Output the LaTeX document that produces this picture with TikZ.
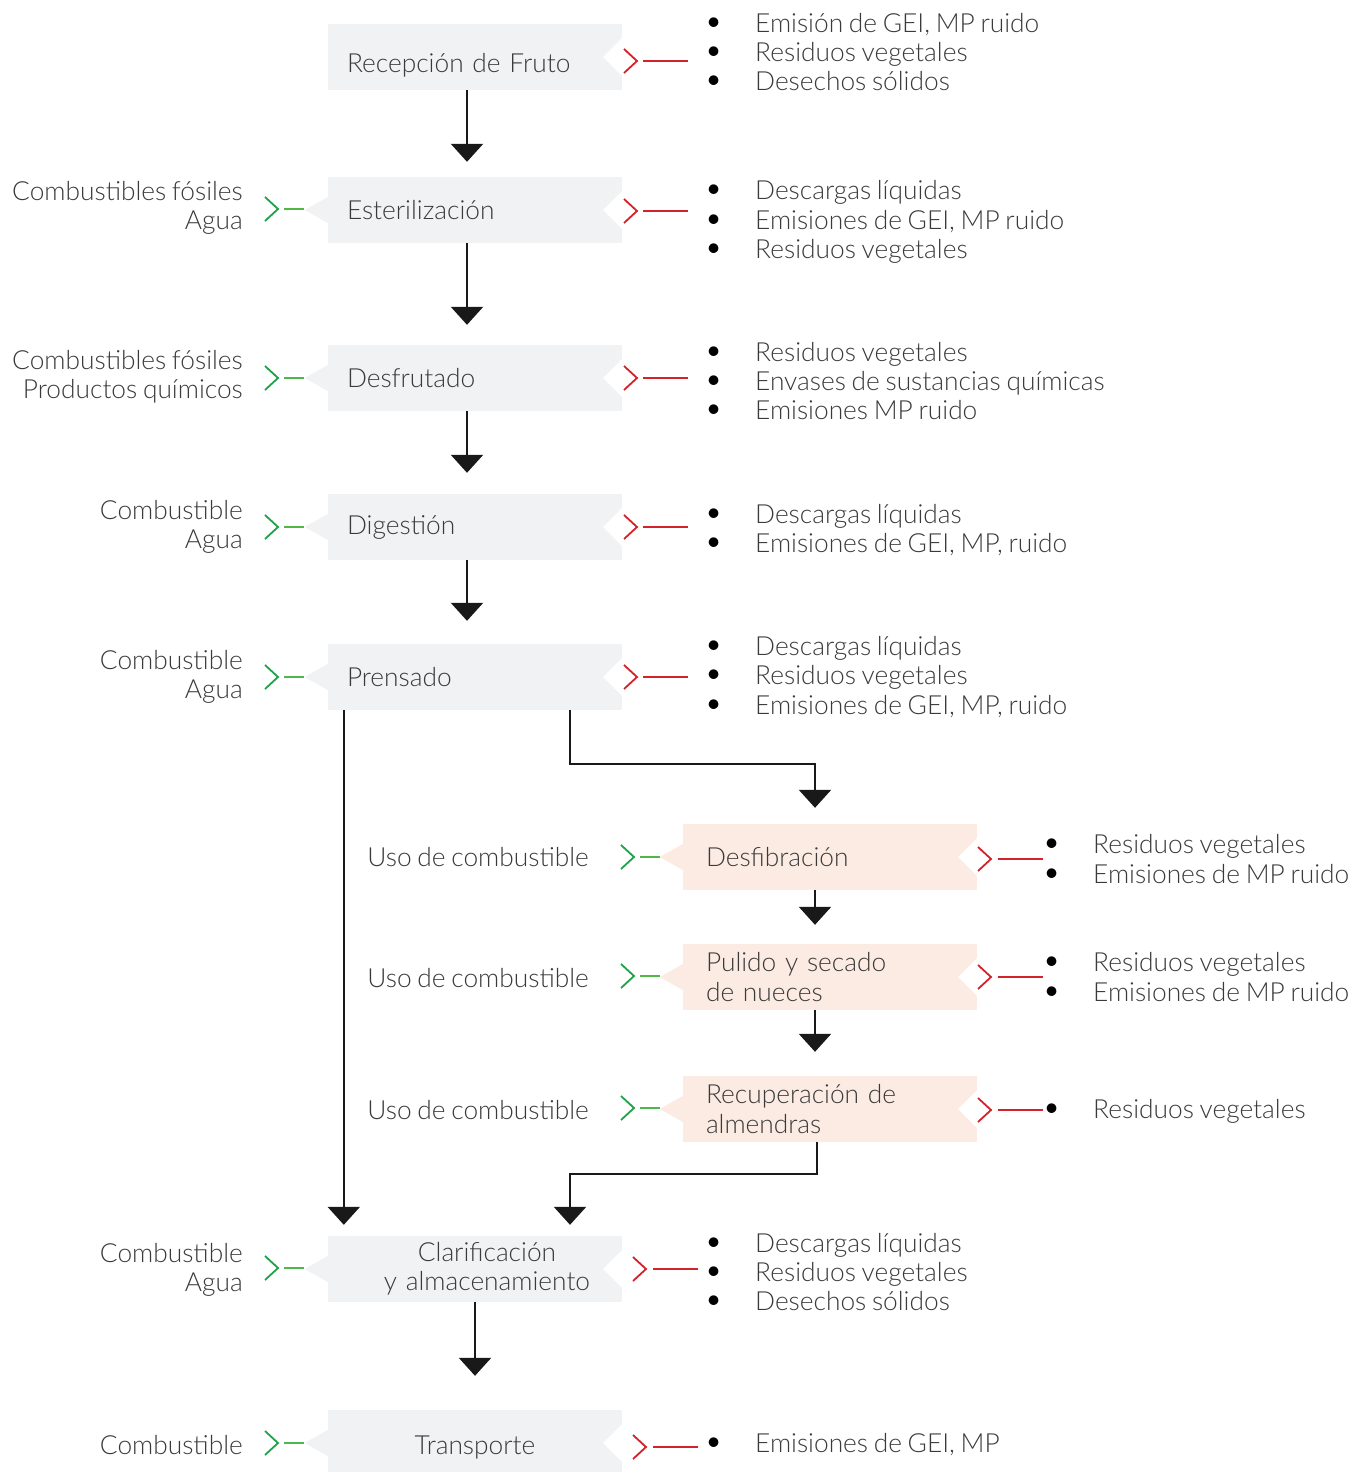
\documentclass[tikz,border=0pt]{standalone}
\usepackage{fontspec}
\setmainfont{Lato}[UprightFont={* Light}, WordSpace=0.8]
\usetikzlibrary{arrows.meta}
\definecolor{boxgrey}{HTML}{F1F2F3}
\definecolor{boxpeach}{HTML}{FCEBE3}
\definecolor{txt}{HTML}{3A3A3A}
\definecolor{gchev}{HTML}{1FA24A}
\definecolor{gline}{HTML}{4DB848}
\definecolor{rchev}{HTML}{D3222A}
\tikzset{
 base/.style={font=\fontsize{26.3}{29.3}\selectfont, text=txt},
 proc/.style={base, rectangle, fill=boxgrey, minimum width=294pt, minimum height=66pt, inner xsep=19pt, inner ysep=0pt, text width=256pt, align=left},
 procp/.style={proc, fill=boxpeach, inner xsep=23pt, text width=248pt},
 outlist/.style={base, anchor=west, align=left, inner sep=0pt},
 inlist/.style={base, anchor=east, align=right, inner sep=0pt},
 flow/.style={line width=2.5pt, black!90, -{Triangle[width=32pt,length=18pt]}},
 chev/.style={line width=1.8pt},
}
\newcommand\rmk[4]{%
 \draw[chev, rchev] (#1,#2-12) -- (#1+13,#2) -- (#1,#2+12);
 \draw[rchev, line width=2.6pt] (#3,#2) -- (#4,#2);}
\newcommand\gmk[2]{%
 \draw[chev, gchev] (#1,#2-12) -- (#1+13,#2) -- (#1,#2+12);
 \draw[gline, line width=2.6pt] (#1+19,#2) -- (#1+39,#2);}
\newcommand\notch[1]{%
 \fill[white] ([xshift=1pt,yshift=20pt]#1.east) -- ++(-20pt,-20pt) -- ++(20pt,-20pt) -- cycle;}
\newcommand\tab[2]{%
 \fill[#2] ([yshift=13pt]#1.west) -- ++(-23pt,-13pt) -- ++(23pt,-13pt) -- cycle;}
\newcommand\bl{\makebox[50pt][l]{\hspace*{-1pt}\smash{\textcolor{black}{\scalebox{1.25}{\textbullet}}}}}
\begin{document}
\begin{tikzpicture}[x=1pt,y=-1pt]
\useasboundingbox[fill=white] (0,0) rectangle (1367,1472);

% process boxes
\node[proc, text height=30pt, text depth=0pt] (recep) at (475,57) {Recepción de Fruto};
\node[proc] (ester) at (475,210) {Esterilización};
\node[proc] (desfr) at (475,378) {Desfrutado};
\node[proc] (dig) at (475,527) {Digestión};
\node[proc] (prens) at (475,677) {Prensado};
\node[procp] (desfib) at (830,857) {Desfibración};
\node[procp] (pulido) at (830,977) {Pulido y secado\\de nueces};
\node[procp] (recup) at (830,1109) {Recuperación de\\almendras};
\node[proc, align=center] (clar) at (475,1269) {\hspace*{24pt}Clarificación\\\hspace*{24pt}y almacenamiento};
\node[proc, align=center, text height=22pt, text depth=0pt] (transp) at (475,1443) {Transporte};

\foreach \n in {recep,ester,desfr,dig,prens,desfib,pulido,recup,clar,transp} {\notch{\n}}
\foreach \n in {ester,desfr,dig,prens,clar,transp} {\tab{\n}{boxgrey}}
\foreach \n in {desfib,pulido,recup} {\tab{\n}{boxpeach}}

% inputs
\node[inlist] (in2) at (243,208) {Combustibles fósiles\\Agua};
\node[inlist] (in3) at (243,377) {Combustibles fósiles\\Productos químicos};
\node[inlist] (in4) at (243,527) {Combustible\\Agua};
\node[inlist] (in5) at (243,677) {Combustible\\Agua};
\node[inlist] (in6) at (589,857) {Uso de combustible};
\node[inlist] (in7) at (589,978) {Uso de combustible};
\node[inlist] (in8) at (589,1110) {Uso de combustible};
\node[inlist] (in9) at (243,1270) {Combustible\\Agua};
\node[inlist] (in10) at (243,1445) {Combustible};

\gmk{265}{209}
\gmk{265}{378}
\gmk{265}{527}
\gmk{265}{677}
\gmk{621}{857}
\gmk{621}{976}
\gmk{621}{1108}
\gmk{265}{1268}
\gmk{265}{1443}

% outputs
\node[outlist] (out1) at (705,52) {\bl Emisión de GEI, MP ruido\\\bl Residuos vegetales\\\bl Desechos sólidos};
\node[outlist] (out2) at (705,222) {\bl Descargas líquidas\\\bl Emisiones de GEI, MP ruido\\\bl Residuos vegetales};
\node[outlist] (out3) at (705,381) {\bl Residuos vegetales\\\bl Envases de sustancias químicas\\\bl Emisiones MP ruido};
\node[outlist] (out4) at (705,530) {\bl Descargas líquidas\\\bl Emisiones de GEI, MP, ruido};
\node[outlist] (out5) at (705,677) {\bl Descargas líquidas\\\bl Residuos vegetales\\\bl Emisiones de GEI, MP, ruido};
\node[outlist] (out6) at (1043,859) {\bl Residuos vegetales\\\bl Emisiones de MP ruido};
\node[outlist] (out7) at (1043,977) {\bl Residuos vegetales\\\bl Emisiones de MP ruido};
\node[outlist] (out8) at (1043,1111) {\bl Residuos vegetales};
\node[outlist] (out9) at (705,1272) {\bl Descargas líquidas\\\bl Residuos vegetales\\\bl Desechos sólidos};
\node[outlist] (out10) at (705,1445) {\bl Emisiones de GEI, MP};

\rmk{624}{61}{643}{688}
\rmk{624}{211}{643}{688}
\rmk{624}{378}{643}{688}
\rmk{624}{527}{643}{688}
\rmk{624}{677}{643}{688}
\rmk{978}{859}{998}{1043}
\rmk{978}{977}{998}{1043}
\rmk{978}{1110}{998}{1043}
\rmk{633}{1269}{653}{698}
\rmk{633}{1447}{653}{698}

% flow arrows
\draw[flow] ([xshift=-8pt]recep.south) -- ([xshift=-8pt,yshift=15pt]ester.north);
\draw[flow] ([xshift=-8pt]ester.south) -- ([xshift=-8pt,yshift=20pt]desfr.north);
\draw[flow] ([xshift=-8pt]desfr.south) -- ([xshift=-8pt,yshift=21pt]dig.north);
\draw[flow] ([xshift=-8pt]dig.south) -- ([xshift=-8pt,yshift=23pt]prens.north);
\draw[flow] ([xshift=16pt]prens.south west) -- ([xshift=16pt,yshift=11pt]clar.north west);
\draw[flow] ([xshift=-52pt]prens.south east) |- ([xshift=-15pt,yshift=60pt]desfib.north) -- ([xshift=-15pt,yshift=16pt]desfib.north);
\draw[flow] ([xshift=-15pt]desfib.south) -- ([xshift=-15pt,yshift=19pt]pulido.north);
\draw[flow] ([xshift=-15pt]pulido.south) -- ([xshift=-15pt,yshift=24pt]recup.north);
\draw[flow] ([xshift=-13pt]recup.south) |- ([xshift=95pt,yshift=62pt]clar.north) -- ([xshift=95pt,yshift=11pt]clar.north);
\draw[flow] (clar.south) -- ([yshift=34pt]transp.north);
\end{tikzpicture}
\end{document}
